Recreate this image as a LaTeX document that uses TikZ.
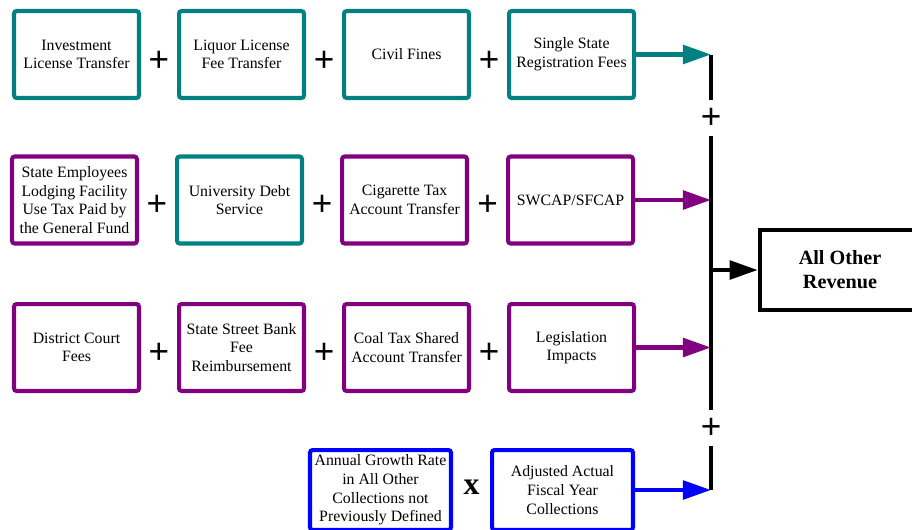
\documentclass[tikz,border=0pt]{standalone}
\usepackage{fontspec}
\setmainfont{Liberation Serif}
\newfontfamily\plusfont{Liberation Sans}
\usepackage{xcolor}
\usetikzlibrary{positioning, arrows.meta, calc}

\definecolor{tealline}{RGB}{0,128,128}
\definecolor{purpleline}{RGB}{128,0,128}
\definecolor{blueline}{RGB}{0,0,255}

\begin{document}
\begin{tikzpicture}[
  x=0.02cm, y=-0.02cm,
  itembox/.style={rectangle, draw, line width=2.3pt, rounded corners=1.5pt, minimum width=2.5cm, minimum height=1.74cm, inner sep=1pt, align=center, font=\fontsize{9}{10.6}\selectfont},
  tealbox/.style={itembox, draw=tealline},
  purplebox/.style={itembox, draw=purpleline},
  bluebox/.style={itembox, draw=blueline, minimum width=2.82cm, minimum height=1.6cm},
  totalbox/.style={rectangle, draw, line width=2.6pt, minimum width=3.2cm, minimum height=1.6cm, align=center, font=\fontsize{11.5}{13.6}\selectfont\bfseries},
  plussign/.style={font=\plusfont\fontsize{20}{20}\selectfont, inner sep=0pt},
  busplus/.style={plussign, inner ysep=4pt},
  timessign/.style={font=\fontsize{18}{18}\selectfont\bfseries, inner sep=0pt},
  link/.style={-{Triangle[length=16pt, width=10.5pt]}, line width=2.5pt},
  bus/.style={line width=2.4pt}
]
\useasboundingbox (0,0) rectangle (912,529);
\clip (0,0) rectangle (912,529);

% Nodes
\node[tealbox] (invest) at (76.5,54.5) {Investment\\License Transfer};
\node[tealbox, right=0.72cm of invest] (liquor) {Liquor License\\Fee Transfer};
\node[tealbox, right=0.72cm of liquor] (civil) {Civil Fines};
\node[tealbox, right=0.72cm of civil] (registr) {Single State\\Registration Fees};

\node[purplebox] (lodging) at (74.5,200) {State Employees\\Lodging Facility\\Use Tax Paid by\\the General Fund};
\node[tealbox, right=0.72cm of lodging] (univ) {University Debt\\Service};
\node[purplebox, right=0.72cm of univ] (cigar) {Cigarette Tax\\Account Transfer};
\node[purplebox, right=0.74cm of cigar] (swcap) {SWCAP/SFCAP};

\node[purplebox] (court) at (76.5,347.5) {District Court\\Fees};
\node[purplebox, right=0.72cm of court] (bank) {State Street Bank\\Fee\\Reimbursement};
\node[purplebox, right=0.72cm of bank] (coal) {Coal Tax Shared\\Account Transfer};
\node[purplebox, right=0.72cm of coal] (legis) {Legislation\\Impacts};

\node[bluebox] (adjusted) at (562.5,490) {Adjusted Actual\\Fiscal Year\\Collections};
\node[bluebox, left=0.74cm of adjusted] (growth) {Annual Growth Rate\\in All Other\\Collections not\\Previously Defined};

\node[totalbox] (total) at (840,270) {All Other\\Revenue};

% Signs
\node[plussign] (plusA) at ($(invest.east)!0.5!(liquor.west)+(0,7)$) {+};
\node[plussign] (plusB) at ($(liquor.east)!0.5!(civil.west)+(0,7)$) {+};
\node[plussign] (plusC) at ($(civil.east)!0.5!(registr.west)+(0,7)$) {+};
\node[plussign] (plusD) at ($(lodging.east)!0.5!(univ.west)+(0,5)$) {+};
\node[plussign] (plusE) at ($(univ.east)!0.5!(cigar.west)+(0,5)$) {+};
\node[plussign] (plusF) at ($(cigar.east)!0.5!(swcap.west)+(0,5)$) {+};
\node[plussign] (plusG) at ($(court.east)!0.5!(bank.west)+(0,6)$) {+};
\node[plussign] (plusH) at ($(bank.east)!0.5!(coal.west)+(0,6)$) {+};
\node[plussign] (plusI) at ($(coal.east)!0.5!(legis.west)+(0,6)$) {+};
\node[timessign] (times) at ($(growth.east)!0.5!(adjusted.west)+(0,-3)$) {x};

% Bus
\coordinate (busx) at (711,0);
\coordinate (bus1) at (registr.east -| busx);
\coordinate (bus2) at (swcap.east -| busx);
\coordinate (bus3) at (legis.east -| busx);
\coordinate (bus4) at (adjusted.east -| busx);
\coordinate (busout) at (total.west -| busx);
\node[busplus] (busplusA) at (711,118) {+};
\node[busplus] (busplusB) at (711,428) {+};

\draw[bus] (bus1) -- (busplusA.north);
\draw[bus] (busplusA.south) -- (busplusB.north);
\draw[bus] (busplusB.south) -- (bus4);

% Connections
\draw[link, tealline] (registr.east) -- (bus1);
\draw[link, purpleline] (swcap.east) -- (bus2);
\draw[link, purpleline] (legis.east) -- (bus3);
\draw[link, blueline] (adjusted.east) -- (bus4);
\draw[link] (busout) -- (total.west);

\end{tikzpicture}
\end{document}
